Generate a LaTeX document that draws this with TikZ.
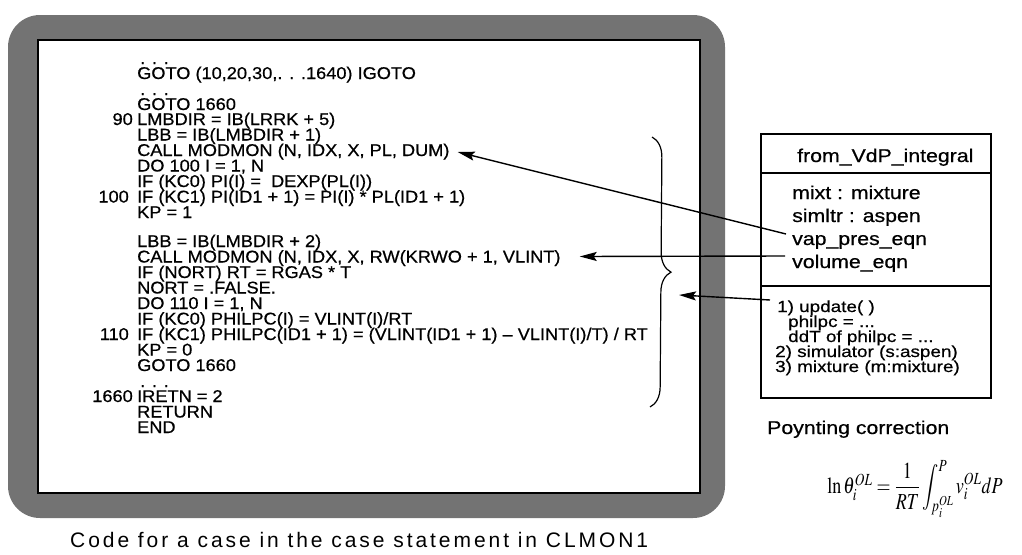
\documentclass[tikz,border=0pt]{standalone}
\usepackage{mathptmx}
\usepackage[no-math]{fontspec}
\setmainfont{Liberation Sans}
\newfontfamily\cf[FakeStretch=1.07,FakeBold=0.6]{Liberation Sans}
\newfontfamily\af[FakeStretch=1.15,FakeBold=0.6]{Liberation Sans}
\newfontfamily\mf[FakeStretch=1.18,FakeBold=0.6]{Liberation Sans}
\newfontfamily\capfont[LetterSpace=14]{Liberation Sans}
\usetikzlibrary{arrows.meta,decorations.pathreplacing}
\begin{document}
\begin{tikzpicture}[x=1pt,y=-1pt,
  code/.style={anchor=base west,inner sep=0pt,font=\cf\fontsize{17}{15.5}\selectfont},
  lnum/.style={anchor=base east,inner sep=0pt,font=\cf\fontsize{17}{15.5}\selectfont},
  attr/.style={anchor=base west,inner sep=0pt,font=\af\fontsize{18.5}{23}\selectfont},
  meth/.style={anchor=base west,inner sep=0pt,font=\mf\fontsize{16}{15}\selectfont},
  arr/.style={line width=1.4pt,-{Stealth[length=17pt,width=9pt,inset=3pt]}},
  boxline/.style={line width=1.5pt}]
\useasboundingbox (0,0) rectangle (1022,554);
% frame
\fill[black!55,rounded corners=32pt] (8,15) rectangle (725,518);
\draw[fill=white,line width=1.6pt] (38,40) rectangle (700,493);
% code lines
\node[code] (d1) at (140,64) {. . .};
\node[code] (g1) at (137,79) {GOTO (10,20,30,. . .1640) IGOTO};
\node[code] (d2) at (140,95) {. . .};
\node[code] (g2) at (137,110) {GOTO 1660};
\node[lnum] (n90) at (133,125) {90};
\node[code] (c90) at (137,125) {LMBDIR = IB(LRRK + 5)};
\node[code] (lbb1) at (137,140.5) {LBB = IB(LMBDIR + 1)};
\node[code] (call1) at (137,156) {CALL MODMON (N, IDX, X, PL, DUM)};
\node[code] (do1) at (137,171.5) {DO 100 I = 1, N};
\node[code] (if1) at (137,187) {IF (KC0) PI(I) =\ \ DEXP(PL(I))};
\node[lnum] (n100) at (129,202.5) {100};
\node[code] (c100) at (137,202.5) {IF (KC1) PI(ID1 + 1) = PI(I) * PL(ID1 + 1)};
\node[code] (kp1) at (137,218) {KP = 1};
\node[code] (lbb2) at (137,247) {LBB = IB(LMBDIR + 2)};
\node[code] (call2) at (137,262.5) {CALL MODMON (N, IDX, X, RW(KRWO + 1, VLINT)};
\node[code] (if2) at (137,278) {IF (NORT) RT = RGAS * T};
\node[code] (nort) at (137,293.5) {NORT = .FALSE.};
\node[code] (do2) at (137,309) {DO 110 I = 1, N};
\node[code] (if3) at (137,324.5) {IF (KC0) PHILPC(I) = VLINT(I)/RT};
\node[lnum] (n110) at (129,340) {110};
\node[code] (c110) at (137,340) {IF (KC1) PHILPC(ID1 + 1) = (VLINT(ID1 + 1) – VLINT(I)/T) / RT};
\node[code] (kp2) at (137,355.5) {KP = 0};
\node[code] (g3) at (137,371) {GOTO 1660};
\node[code] (d3) at (140,387) {. . .};
\node[lnum] (n1660) at (133,402) {1660};
\node[code] (c1660) at (137,402) {IRETN = 2};
\node[code] (ret) at (137,417.5) {RETURN};
\node[code] (endl) at (137,433) {END};
% brace
\draw[line width=1.2pt,decorate,decoration={brace,amplitude=20pt,aspect=0.5}] (652,137) -- (650,407);
\coordinate (braceR) at (679,295);
% class box
\node[draw,boxline,anchor=north west,minimum width=230pt,minimum height=264pt,inner sep=0pt] (cls) at (760,133) {};
\draw[boxline] (760,173) -- (990,173);
\draw[boxline] (760,286) -- (990,286);
\node[attr] (title) at (797,162) {from\_VdP\_integral};
\node[attr] (mixt) at (792,199) {mixt : mixture};
\node[attr] (simltr) at (792,222) {simltr : aspen};
\node[attr] (vap) at (792,245) {vap\_pres\_eqn};
\node[attr] (vol) at (792,268) {volume\_eqn};
\node[meth] (upd) at (777,312) {1) update( )};
\node[meth] (phi) at (788,327) {philpc = ...};
\node[meth] (ddt) at (788,342) {ddT of philpc = ...};
\node[meth] (sim) at (775,357) {2) simulator (s:aspen)};
\node[meth] (mix) at (775,372) {3) mixture (m:mixture)};
% arrows
\draw[arr] ([shift={(-6pt,11pt)}]vap.base west) -- ([shift={(8pt,4pt)}]call1.base east);
\draw[arr] ([shift={(-7pt,12pt)}]vol.base west) -- ([shift={(19pt,6pt)}]call2.base east);
\draw[arr] ([shift={(-7pt,12pt)}]upd.base west) -- (braceR);
% Poynting
\node[attr,font=\af\fontsize{18.5}{23}\selectfont] (poy) at (767,434) {Poynting correction};
\node[inner sep=0pt] (eq) at (915,489) {\fontsize{17}{20}\selectfont\scalebox{1.06}[1.35]{$\ln \theta_i^{OL} = \displaystyle\frac{1}{RT}\int_{p_i^{OL}}^{P} v_i^{OL}dP$}};
% caption
\node[anchor=base west,inner sep=0pt,font=\capfont\fontsize{21}{23}\selectfont] (cap) at (70,547) {Code for a case in the case statement in CLMON1};
\end{tikzpicture}
\end{document}
